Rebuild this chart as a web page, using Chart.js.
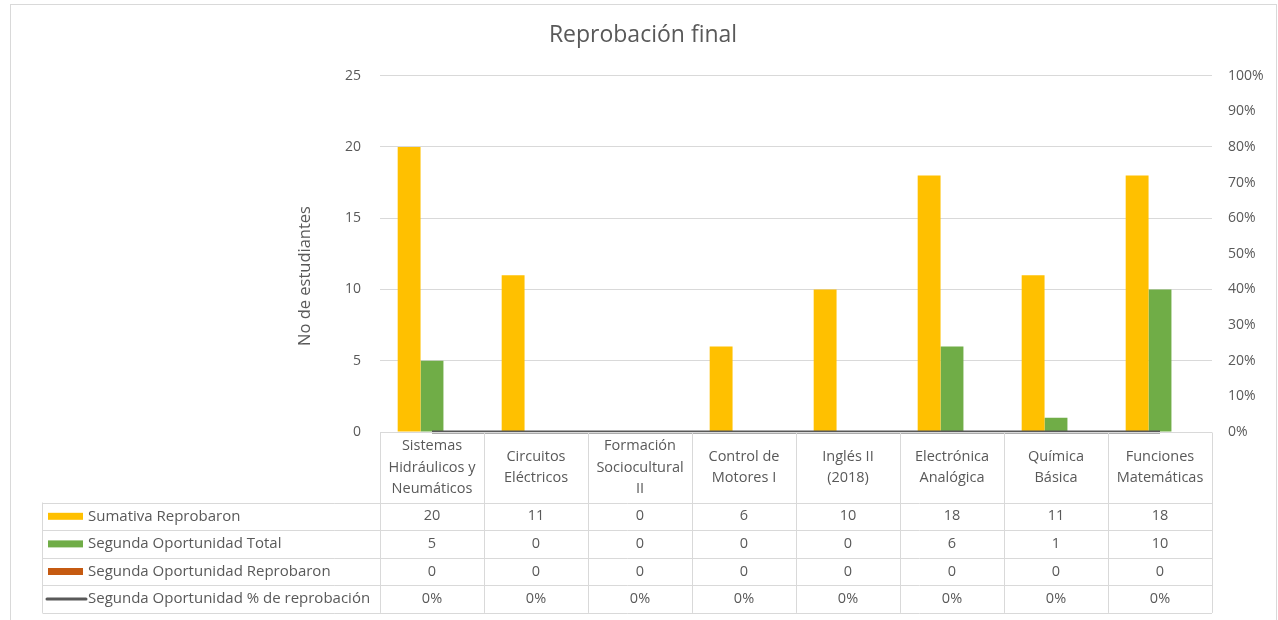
<!DOCTYPE html>
<html>
<head>
<meta charset="utf-8">
<script src="https://cdn.jsdelivr.net/npm/chart.js@4.4.0/dist/chart.umd.min.js"></script>
<style>
  html, body { margin: 0; padding: 0; background: #fff; }
</style>
</head>
<body>
<canvas id="chart" width="1278" height="620"></canvas>
<script>
// Category labels, already split the way the data table wraps them
const categories = [
  ["Sistemas", "Hidráulicos y", "Neumáticos"],
  ["Circuitos", "Eléctricos"],
  ["Formación", "Sociocultural", "II"],
  ["Control de", "Motores I"],
  ["Inglés II", "(2018)"],
  ["Electrónica", "Analógica"],
  ["Química", "Básica"],
  ["Funciones", "Matemáticas"],
];

const sumativaReprobaron = [20, 11, 0, 6, 10, 18, 11, 18];
const segundaTotal = [5, 0, 0, 0, 0, 6, 1, 10];
const segundaReprobaron = [0, 0, 0, 0, 0, 0, 0, 0];
const segundaPorcentaje = [0, 0, 0, 0, 0, 0, 0, 0]; // fraction, right axis

const yTitle = "No de estudiantes";

const FONT = "'Open Sans', sans-serif";
const TEXT = "#595959";
const LINES = "#D9D9D9";

// Excel-style data table under the plot, columns follow the x scale
const dataTablePlugin = {
  id: "dataTable",
  beforeDraw(chart) {
    const { ctx } = chart;
    ctx.save();
    ctx.strokeStyle = LINES;
    ctx.lineWidth = 1;
    ctx.strokeRect(10.5, 4.5, 1266, 640);
    ctx.restore();
  },
  afterDraw(chart) {
    const { ctx, chartArea, scales } = chart;
    const xs = scales.x;
    const n = categories.length;
    const colW = (chartArea.right - chartArea.left) / n;
    const top = Math.round(chartArea.bottom) + 0.5;
    const headerBottom = top + 70;
    const rowH = 27.6;
    const legendLeft = 42.5;
    const rows = chart.data.datasets;
    const tableBottom = headerBottom + rowH * rows.length;

    ctx.save();
    ctx.strokeStyle = LINES;
    ctx.lineWidth = 1;
    ctx.beginPath();
    ctx.moveTo(chartArea.left, top);
    ctx.lineTo(chartArea.right, top);
    for (let r = 0; r <= rows.length; r++) {
      const y = Math.round(headerBottom + r * rowH) + 0.5;
      ctx.moveTo(legendLeft, y);
      ctx.lineTo(chartArea.right, y);
    }
    for (let i = 0; i <= n; i++) {
      const x = Math.round(chartArea.left + i * colW) + 0.5;
      ctx.moveTo(x, top);
      ctx.lineTo(x, tableBottom);
    }
    ctx.moveTo(legendLeft, headerBottom);
    ctx.lineTo(legendLeft, tableBottom);
    ctx.stroke();

    ctx.fillStyle = TEXT;
    ctx.font = "14.5px " + FONT;
    ctx.textAlign = "center";
    ctx.textBaseline = "middle";

    // header: category names
    const lh = 21.5;
    categories.forEach((lines, i) => {
      const cx = xs.getPixelForValue(i);
      const cy = (top + headerBottom) / 2;
      lines.forEach((t, k) => {
        ctx.fillText(t, cx, cy + (k - (lines.length - 1) / 2) * lh);
      });
    });

    // value rows
    rows.forEach((ds, r) => {
      const cy = headerBottom + r * rowH + rowH / 2;
      ds.data.forEach((v, i) => {
        const cx = xs.getPixelForValue(i);
        const txt = ds.yAxisID === "y1" ? Math.round(v * 100) + "%" : String(v);
        ctx.fillText(txt, cx, cy);
      });
      // legend key + name
      if (ds.type === "line") {
        ctx.strokeStyle = ds.borderColor;
        ctx.lineWidth = 3;
        ctx.lineCap = "round";
        ctx.beginPath();
        ctx.moveTo(47, cy);
        ctx.lineTo(86, cy);
        ctx.stroke();
      } else {
        ctx.fillStyle = ds.backgroundColor;
        ctx.fillRect(48, cy - 3.5, 35, 7);
      }
      ctx.fillStyle = TEXT;
      ctx.textAlign = "left";
      ctx.save();
      ctx.font = "15px " + FONT;
      ctx.fillText(ds.label, 88, cy);
      ctx.restore();
      ctx.textAlign = "center";
    });

    // left axis title, rotated
    ctx.save();
    ctx.translate(305, 276);
    ctx.rotate(-Math.PI / 2);
    ctx.font = "16.5px " + FONT;
    ctx.fillText(yTitle, 0, 0);
    ctx.restore();

    ctx.restore();
  },
};

const ctx = document.getElementById("chart").getContext("2d");
new Chart(ctx, {
  type: "bar",
  data: {
    labels: categories,
    datasets: [
      {
        label: "Sumativa Reprobaron",
        data: sumativaReprobaron,
        backgroundColor: "#FFC000",
        yAxisID: "y",
        order: 1,
      },
      {
        label: "Segunda Oportunidad Total",
        data: segundaTotal,
        backgroundColor: "#70AD47",
        yAxisID: "y",
        order: 1,
      },
      {
        label: "Segunda Oportunidad Reprobaron",
        data: segundaReprobaron,
        backgroundColor: "#C55A11",
        yAxisID: "y",
        order: 1,
      },
      {
        type: "line",
        label: "Segunda Oportunidad % de reprobación",
        data: segundaPorcentaje,
        borderColor: "#595959",
        backgroundColor: "#595959",
        borderWidth: 3,
        pointRadius: 0,
        clip: 4,
        yAxisID: "y1",
        order: 0,
      },
    ],
  },
  options: {
    responsive: false,
    animation: false,
    layout: { padding: { left: 8, right: 0, top: 0, bottom: 188 } },
    datasets: {
      bar: { categoryPercentage: 0.66, barPercentage: 1 },
    },
    plugins: {
      legend: { display: false },
      tooltip: { enabled: false },
      title: {
        display: true,
        text: "Reprobación final",
        color: TEXT,
        font: { family: FONT, size: 23, weight: "normal" },
        padding: { top: 22, bottom: 26 },
      },
    },
    scales: {
      x: { display: false },
      y: {
        position: "left",
        min: 0,
        max: 25,
        ticks: {
          stepSize: 5,
          padding: 19,
          color: TEXT,
          font: { family: FONT, size: 14 },
        },
        grid: { color: LINES, drawTicks: false },
        border: { display: false },
        afterFit(scale) { scale.width = 372; },
      },
      y1: {
        position: "right",
        min: 0,
        max: 1,
        ticks: {
          stepSize: 0.1,
          padding: 16,
          color: TEXT,
          font: { family: FONT, size: 14 },
          callback: (v) => Math.round(v * 100) + "%",
        },
        grid: { display: false, drawTicks: false },
        border: { display: false },
        afterFit(scale) { scale.width = 66; },
      },
    },
  },
  plugins: [dataTablePlugin],
});
</script>
</body>
</html>
